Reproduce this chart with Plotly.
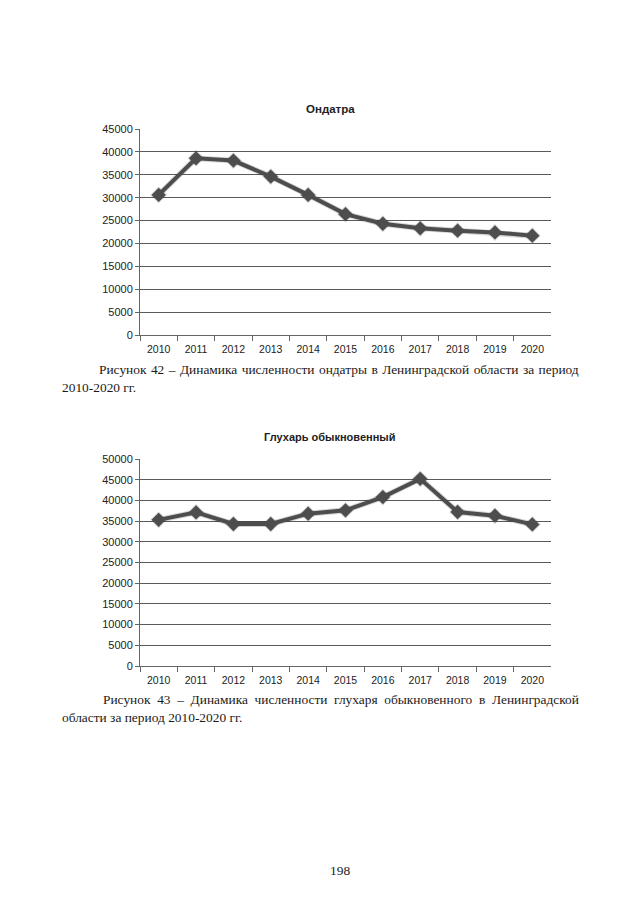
import plotly.graph_objects as go

years = ["2010", "2011", "2012", "2013", "2014", "2015", "2016", "2017", "2018", "2019", "2020"]
ondatra = [30600, 38600, 38100, 34600, 30600, 26400, 24300, 23300, 22800, 22400, 21700]
gluhar = [35300, 37100, 34300, 34300, 36800, 37600, 40800, 45200, 37200, 36300, 34200]

title1 = "Ондатра"
title2 = "Глухарь обыкновенный"
cap1 = [["Рисунок", "42", "–", "Динамика", "численности", "ондатры", "в", "Ленинградской",
         "области", "за", "период"], "2010-2020 гг."]
cap2 = [["Рисунок", "43", "–", "Динамика", "численности", "глухаря", "обыкновенного", "в",
         "Ленинградской"], "области за период 2010-2020 гг."]
page_no = "198"

W, H = 640, 905
OFF = 8  # page body margin
LINE = "#4d4d4d"
GRID = "#5a5a5a"


def px_x(x):
    return (x - OFF) / W


def px_y(y):
    return 1 - (y - OFF) / H


fig = go.Figure()
for vals, ax in [(ondatra, ""), (gluhar, "2")]:
    fig.add_trace(go.Scatter(
        x=years, y=vals, xaxis="x" + ax, yaxis="y" + ax, mode="lines+markers",
        line=dict(color="rgba(0,0,0,0.16)", width=6),
        marker=dict(symbol="diamond", size=13, color="rgba(0,0,0,0.16)"),
        hoverinfo="skip", showlegend=False))
    fig.add_trace(go.Scatter(
        x=years, y=vals, xaxis="x" + ax, yaxis="y" + ax, mode="lines+markers",
        line=dict(color=LINE, width=4),
        marker=dict(symbol="diamond", size=11, color=LINE),
        showlegend=False))

xdom = [px_x(140), px_x(551)]
xfont = dict(family="Liberation Sans, Arial, sans-serif", size=10.5, color="#222")
yfont = dict(family="Liberation Sans, Arial, sans-serif", size=11, color="#222")
common_x = dict(type="category", domain=xdom, showgrid=False, showline=True,
                linecolor="#666", linewidth=1, ticks="outside", tickson="boundaries",
                ticklen=5, tickcolor="#666", tickfont=xfont, zeroline=False,
                fixedrange=True, automargin=False, ticklabelstandoff=4,
                range=[-0.5, 10.5])
common_y = dict(showgrid=True, gridcolor=GRID, gridwidth=1, showline=True,
                linecolor="#666", linewidth=1, ticks="outside", ticklen=4,
                tickcolor="#666", tickfont=yfont, zeroline=False, fixedrange=True,
                tickformat="d", automargin=False, dtick=5000)

fig.update_layout(
    width=W, height=H, autosize=False,
    margin=dict(l=0, r=0, t=0, b=0),
    paper_bgcolor="white", plot_bgcolor="white",
    xaxis=dict(common_x, anchor="y"),
    yaxis=dict(common_y, domain=[px_y(335), px_y(129)], range=[0, 45000], anchor="x"),
    xaxis2=dict(common_x, anchor="y2"),
    yaxis2=dict(common_y, domain=[px_y(666), px_y(459)], range=[0, 50000], anchor="x2"),
)

tfont = dict(family="Liberation Sans, Arial, sans-serif", size=11.5, color="#222")
capfont = dict(family="Liberation Serif, Times New Roman, serif", size=13.4, color="#1a1a1a")
ann = []
for t, x, y, size in [(title1, 330, 109, 11.5), (title2, 330, 437, 11)]:
    ann.append(dict(text="<b>" + t + "</b>", x=px_x(x), y=px_y(y), xref="paper", yref="paper",
                    showarrow=False, font=dict(tfont, size=size),
                    xanchor="center", yanchor="middle"))

cap_lines = [
    (" \u200a".join(cap1[0]), 97, 369.5),
    (cap1[1], 59.5, 387.5),
    (" \u2005".join(cap2[0]), 101, 699),
    (cap2[1], 59.5, 717),
]
for t, x, y in cap_lines:
    ann.append(dict(text=t, x=px_x(x), y=px_y(y), xref="paper", yref="paper",
                    showarrow=False, font=capfont, xanchor="left", yanchor="middle"))
ann.append(dict(text=page_no, x=px_x(339.5), y=px_y(870), xref="paper", yref="paper",
                showarrow=False, font=capfont, xanchor="center", yanchor="middle"))
fig.update_layout(annotations=ann)

fig.write_html("out.html")
